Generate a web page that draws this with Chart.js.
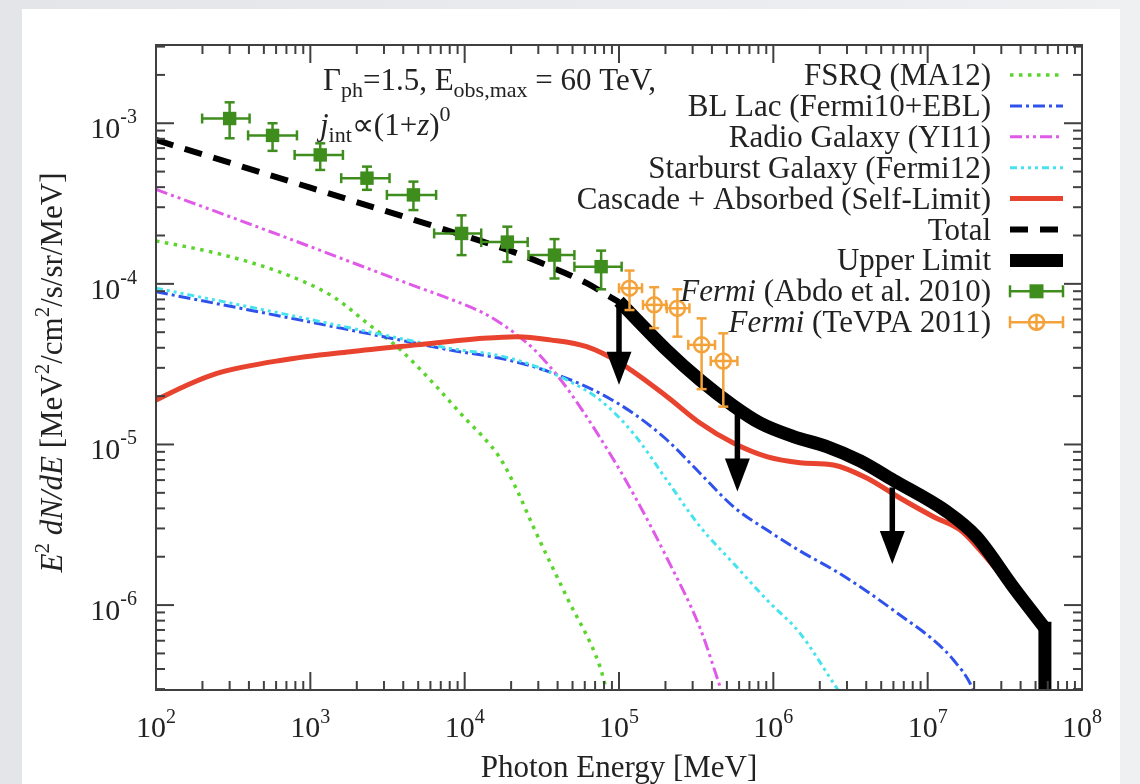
<!DOCTYPE html>
<html>
<head>
<meta charset="utf-8">
<title>Cascade self-limit and the gamma-ray background</title>
<style type="text/css">
  body { margin: 0; width: 1140px; height: 784px; overflow: hidden; background: linear-gradient(90deg, #e3e5e8, #eef0f2); }
  #card { position: absolute; left: 22px; top: 9px; width: 1098px; height: 775px; background: #ffffff; }
  #chart-container { position: absolute; left: 0; top: 0; width: 1140px; height: 784px; }
</style>
<script src="https://cdn.jsdelivr.net/npm/chart.js@4.4.1/dist/chart.umd.min.js"></script>
</head>
<body>
<div id="card"></div>
<div id="chart-container"><canvas id="graphCanvas" width="1140" height="784"></canvas></div>
<script>
var serif = '"Liberation Serif", "Times New Roman", serif';

// photon energy [MeV] and E^2 dN/dE [MeV^2/cm^2/s/sr/MeV]
var fsrqE = [1e2, 2.48e2, 6.7e2, 1.41e3, 2.33e3, 3.82e3, 6.28e3, 1.03e4, 1.32e4, 1.70e4, 2.18e4, 2.79e4, 4.59e4, 7.55e4, 8.34e4, 9.44e4];
var fsrqF = [1.85e-4, 1.55e-4, 1.16e-4, 8.3e-5, 5.7e-5, 3.9e-5, 2.4e-5, 1.42e-5, 1.11e-5, 8.2e-6, 5.21e-6, 3.06e-6, 1.12e-6, 4.1e-7, 2.9e-7, 2.0e-7];

var blE = [1e2, 6.7e2, 2.98e3, 8.05e3, 1.70e4, 2.79e4, 4.59e4, 7.55e4, 1.24e5, 2.04e5, 3.35e5, 5.51e5, 9.06e5, 1.49e6, 2.45e6, 4.03e6, 6.61e6, 1.09e7, 1.47e7, 1.93e7, 2.18e7];
var blF = [8.93e-5, 6.24e-5, 4.69e-5, 3.87e-5, 3.44e-5, 3.05e-5, 2.58e-5, 2.08e-5, 1.56e-5, 1.07e-5, 6.62e-6, 4.1e-6, 2.94e-6, 2.17e-6, 1.66e-6, 1.22e-6, 8.67e-7, 6.06e-7, 4.55e-7, 3.1e-7, 2.22e-7];

var rgE = [1e2, 6.7e2, 4.9e3, 8.05e3, 1.32e4, 1.70e4, 2.18e4, 2.79e4, 3.58e4, 4.59e4, 7.55e4, 1.24e5, 2.04e5, 3.35e5, 4.52e5, 5.22e5];
var rgF = [3.87e-4, 1.97e-4, 9.58e-5, 8.05e-5, 6.59e-5, 5.71e-5, 4.81e-5, 3.94e-5, 3.04e-5, 2.25e-5, 1.1e-5, 4.92e-6, 1.97e-6, 7.2e-7, 3.1e-7, 2.07e-7];

var sbE = [1e2, 6.7e2, 2.98e3, 8.05e3, 1.70e4, 2.79e4, 4.59e4, 7.55e4, 1.24e5, 2.04e5, 3.35e5, 5.51e5, 9.06e5, 1.49e6, 2.45e6, 3.18e6];
var sbF = [9.4e-5, 6.5e-5, 4.81e-5, 3.96e-5, 3.56e-5, 3.1e-5, 2.52e-5, 1.89e-5, 1.17e-5, 6.0e-6, 3.08e-6, 1.82e-6, 1.08e-6, 6.67e-7, 3.27e-7, 2.22e-7];

var casE = [1e2, 1.51e2, 2.48e2, 6.7e2, 1.81e3, 4.9e3, 1.32e4, 2.18e4, 3.58e4, 6.18e4, 1.02e5, 2.04e5, 3.35e5, 5.51e5, 9.06e5, 1.49e6, 2.45e6, 4.03e6, 6.61e6, 1.09e7, 1.62e7, 2.18e7, 3.57e7, 5.75e7];
var casF = [1.89e-5, 2.29e-5, 2.77e-5, 3.36e-5, 3.78e-5, 4.17e-5, 4.58e-5, 4.69e-5, 4.48e-5, 4.06e-5, 3.21e-5, 1.99e-5, 1.36e-5, 1.02e-5, 8.39e-6, 7.7e-6, 7.45e-6, 6.18e-6, 4.64e-6, 3.55e-6, 2.94e-6, 2.2e-6, 1.24e-6, 7.0e-7];

var totE = [1e2, 1e3, 1e4, 2e4, 3.58e4, 6.18e4, 8.75e4, 1e5];
var totF = [7.87e-4, 3.97e-4, 1.99e-4, 1.6e-4, 1.28e-4, 1.01e-4, 8.3e-5, 7.7e-5];

var ulE = [1e5, 2.04e5, 3.35e5, 5.51e5, 8.2e5, 1.35e6, 2.22e6, 3.65e6, 5.98e6, 1.33e7, 2.07e7, 3.58e7, 5.75e7];
var ulF = [7.8e-5, 3.87e-5, 2.52e-5, 1.74e-5, 1.36e-5, 1.12e-5, 9.7e-6, 7.9e-6, 6.0e-6, 3.82e-6, 2.67e-6, 1.30e-6, 7.18e-7];
// vertical drop of the upper limit at the highest energy
var ulDropE = [5.75e7, 5.75e7];
var ulDropF = [7.18e-7, 1e-7];

// upper limit arrows
var arrowE = [1e5, 5.85e5, 5.9e6];
var arrowFrom = [7.8e-5, 1.6e-5, 5.4e-6];
var arrowTo = [2.35e-5, 5.1e-6, 1.8e-6];

// Fermi (Abdo et al. 2010)
var abdoE = [300, 569, 1159, 2328, 4656, 9550, 18900, 38200, 76600];
var abdoELo = [199, 395, 791, 1585, 3133, 6340, 12800, 25900, 51400];
var abdoEHi = [404, 819, 1626, 3260, 6531, 12800, 25600, 51400, 104000];
var abdoF = [1.07e-3, 8.4e-4, 6.35e-4, 4.55e-4, 3.58e-4, 2.06e-4, 1.82e-4, 1.51e-4, 1.28e-4];
var abdoFLo = [8.06e-4, 6.73e-4, 5.12e-4, 3.85e-4, 2.88e-4, 1.51e-4, 1.37e-4, 1.08e-4, 9.25e-5];
var abdoFHi = [1.35e-3, 1.0e-3, 7.5e-4, 5.37e-4, 4.33e-4, 2.67e-4, 2.27e-4, 1.90e-4, 1.61e-4];

// Fermi (TeVPA 2011)
var tevE = [1.17e5, 1.69e5, 2.39e5, 3.43e5, 4.74e5];
var tevELo = [1.0e5, 1.43e5, 2.04e5, 2.81e5, 3.93e5];
var tevEHi = [1.41e5, 2.02e5, 2.86e5, 4.19e5, 5.85e5];
var tevF = [9.4e-5, 7.4e-5, 7.05e-5, 4.17e-5, 3.31e-5];
var tevFLo = [6.87e-5, 5.3e-5, 4.69e-5, 2.21e-5, 1.72e-5];
var tevFHi = [1.21e-4, 9.53e-5, 9.25e-5, 6.1e-5, 4.92e-5];

var xTickExp = [2, 3, 4, 5, 6, 7, 8];
var yTickExp = [-6, -5, -4, -3];

var legendOrder = ['FSRQ (MA12)', 'BL Lac (Fermi10+EBL)', 'Radio Galaxy (YI11)', 'Starburst Galaxy (Fermi12)',
  'Cascade + Absorbed (Self-Limit)', 'Total', 'Upper Limit', 'Fermi (Abdo et al. 2010)', 'Fermi (TeVPA 2011)'];

var abdoColor = '#3e8d1d';
var tevColor = '#f4a23a';

function pts(xs, ys) {
    return xs.map(function (x, i) { return { x: x, y: ys[i] }; });
}

function curve(label, xs, ys, color, width, dash, order) {
    return {
        label: label, data: pts(xs, ys), showLine: true, fill: false,
        borderColor: color, backgroundColor: color, borderWidth: width, borderDash: dash,
        borderJoinStyle: 'round', pointRadius: 0, cubicInterpolationMode: 'monotone',
        clip: 0, order: order
    };
}

function partFont(p) {
    return (p.i ? 'italic ' : '') + (p.s || 31) + 'px ' + serif;
}

// draws text made of pieces (italic, sub/superscripts)
function drawParts(ctx, x, y, parts, align) {
    var w = 0;
    parts.forEach(function (p) { ctx.font = partFont(p); w += ctx.measureText(p.t).width; });
    var cx = align === 'right' ? x - w : (align === 'center' ? x - w / 2 : x);
    parts.forEach(function (p) {
        ctx.font = partFont(p);
        ctx.fillText(p.t, cx, y + (p.dy || 0));
        cx += ctx.measureText(p.t).width;
    });
}

function seg(ctx, x1, y1, x2, y2) {
    ctx.beginPath();
    ctx.moveTo(x1, y1);
    ctx.lineTo(x2, y2);
    ctx.stroke();
}

function errorBars(ctx, xs, ys, e, eLo, eHi, f, fLo, fHi, color) {
    ctx.strokeStyle = color;
    ctx.lineWidth = 2.5;
    ctx.setLineDash([]);
    for (var i = 0; i < e.length; i++) {
        var px = xs.getPixelForValue(e[i]), py = ys.getPixelForValue(f[i]);
        var x1 = xs.getPixelForValue(eLo[i]), x2 = xs.getPixelForValue(eHi[i]);
        var y1 = ys.getPixelForValue(fHi[i]), y2 = ys.getPixelForValue(fLo[i]);
        seg(ctx, x1, py, x2, py);
        seg(ctx, x1, py - 5, x1, py + 5);
        seg(ctx, x2, py - 5, x2, py + 5);
        seg(ctx, px, y1, px, y2);
        seg(ctx, px - 5, y1, px + 5, y1);
        seg(ctx, px - 5, y2, px + 5, y2);
    }
}

var decorations = {
    id: 'decorations',
    afterDatasetsDraw: function (chart) {
        var ctx = chart.ctx, a = chart.chartArea, xs = chart.scales.x, ys = chart.scales.y;
        ctx.save();

        // arrows of the upper limit
        ctx.strokeStyle = '#000';
        ctx.fillStyle = '#000';
        ctx.lineWidth = 5.5;
        for (var i = 0; i < arrowE.length; i++) {
            var ax = xs.getPixelForValue(arrowE[i]);
            var ay1 = ys.getPixelForValue(arrowFrom[i]), ay2 = ys.getPixelForValue(arrowTo[i]);
            seg(ctx, ax, ay1, ax, ay2 - 30);
            ctx.beginPath();
            ctx.moveTo(ax - 12.5, ay2 - 33);
            ctx.lineTo(ax + 12.5, ay2 - 33);
            ctx.lineTo(ax, ay2);
            ctx.closePath();
            ctx.fill();
        }

        errorBars(ctx, xs, ys, abdoE, abdoELo, abdoEHi, abdoF, abdoFLo, abdoFHi, abdoColor);
        errorBars(ctx, xs, ys, tevE, tevELo, tevEHi, tevF, tevFLo, tevFHi, tevColor);

        // frame and gnuplot-like ticks on all sides
        ctx.strokeStyle = '#404040';
        ctx.lineWidth = 2;
        ctx.strokeRect(a.left, a.top, a.right - a.left, a.bottom - a.top);
        for (var n = 2; n <= 8; n++) {
            for (var k = 1; k <= 9; k++) {
                var v = k * Math.pow(10, n);
                if (v > 1.0001e8) break;
                var px = xs.getPixelForValue(v), len = k === 1 ? 18 : 9;
                seg(ctx, px, a.bottom, px, a.bottom - len);
                seg(ctx, px, a.top, px, a.top + len);
            }
        }
        for (n = -7; n <= -3; n++) {
            for (k = 1; k <= 9; k++) {
                v = k * Math.pow(10, n);
                if (v < ys.min || v > ys.max) continue;
                var py = ys.getPixelForValue(v);
                len = k === 1 ? 18 : 9;
                seg(ctx, a.left, py, a.left + len, py);
                seg(ctx, a.right, py, a.right - len, py);
            }
        }

        // tick labels
        ctx.fillStyle = '#222';
        xTickExp.forEach(function (e) {
            drawParts(ctx, xs.getPixelForValue(Math.pow(10, e)), a.bottom + 47,
                [{ t: '10', s: 30 }, { t: String(e), s: 20, dy: -14 }], 'center');
        });
        yTickExp.forEach(function (e) {
            drawParts(ctx, a.left - 19, ys.getPixelForValue(Math.pow(10, e)) + 15,
                [{ t: '10', s: 30 }, { t: String(e), s: 20, dy: -15 }], 'right');
        });

        // axis titles
        drawParts(ctx, (a.left + a.right) / 2, a.bottom + 87, [{ t: 'Photon Energy [MeV]' }], 'center');
        ctx.save();
        ctx.translate(a.left - 94, (a.top + a.bottom) / 2 + 5);
        ctx.rotate(-Math.PI / 2);
        drawParts(ctx, 0, 0, [
            { t: 'E', i: true }, { t: '2', s: 21, dy: -13 }, { t: ' ' }, { t: 'dN/dE', i: true },
            { t: ' [MeV' }, { t: '2', s: 21, dy: -13 }, { t: '/cm' }, { t: '2', s: 21, dy: -13 }, { t: '/s/sr/MeV]' }
        ], 'center');
        ctx.restore();

        // model annotation
        drawParts(ctx, a.left + 167, a.top + 45, [
            { t: '\u0393' }, { t: 'ph', s: 22, dy: 7 }, { t: '=1.5, E' }, { t: 'obs,max', s: 22, dy: 7 }, { t: ' = 60 TeV,' }
        ], 'left');
        drawParts(ctx, a.left + 164, a.top + 90, [
            { t: 'j', i: true }, { t: 'int', s: 22, dy: 7 }, { t: '\u221d(1+' }, { t: 'z', i: true }, { t: ')' }, { t: '0', s: 22, dy: -14 }
        ], 'left');

        // key
        var textRight = a.right - 91, s1 = a.right - 72, s2 = a.right - 19, sm = (s1 + s2) / 2;
        legendOrder.forEach(function (label, row) {
            var ds = chart.data.datasets.find(function (d) { return d.label === label; });
            var base = a.top + 40 + row * 30.9, ly = base - 10;
            ctx.fillStyle = '#222';
            if (label.indexOf('Fermi ') === 0) {
                drawParts(ctx, textRight, base, [{ t: 'Fermi', i: true }, { t: label.slice(5) }], 'right');
            } else {
                drawParts(ctx, textRight, base, [{ t: label }], 'right');
            }
            if (ds.showLine) {
                ctx.strokeStyle = ds.borderColor;
                ctx.lineWidth = ds.borderWidth;
                ctx.setLineDash(ds.borderDash || []);
                seg(ctx, s1, ly, s2, ly);
                ctx.setLineDash([]);
            } else {
                ctx.strokeStyle = ds.borderColor;
                ctx.lineWidth = 2.5;
                seg(ctx, s1, ly, s2, ly);
                seg(ctx, s1, ly - 6, s1, ly + 6);
                seg(ctx, s2, ly - 6, s2, ly + 6);
                if (ds.pointStyle === 'rect') {
                    ctx.fillStyle = ds.backgroundColor;
                    ctx.fillRect(sm - 7, ly - 7, 14, 14);
                } else {
                    ctx.beginPath();
                    ctx.arc(sm, ly, ds.pointRadius, 0, Math.PI * 2);
                    ctx.stroke();
                    seg(ctx, sm, ly - 7, sm, ly + 7);
                }
            }
        });
        ctx.restore();
    }
};

var ulDrop = curve('Upper Limit drop', ulDropE, ulDropF, '#000000', 13, [], 2);
ulDrop.borderCapStyle = 'square';

var chartdata = {
    datasets: [
        {
            label: 'Fermi (TeVPA 2011)', data: pts(tevE, tevF), showLine: false, pointStyle: 'circle',
            pointRadius: 7.5, pointBorderWidth: 2.5, borderColor: tevColor, backgroundColor: 'rgba(255,255,255,0)', order: 0
        },
        {
            label: 'Fermi (Abdo et al. 2010)', data: pts(abdoE, abdoF), showLine: false, pointStyle: 'rect',
            pointRadius: 9.5, pointBorderWidth: 0, borderColor: abdoColor, backgroundColor: abdoColor, order: 1
        },
        curve('Upper Limit', ulE, ulF, '#000000', 13, [], 2),
        ulDrop,
        curve('Total', totE, totF, '#000000', 6, [18, 12], 3),
        curve('Cascade + Absorbed (Self-Limit)', casE, casF, '#e8432f', 5, [], 4),
        curve('Starburst Galaxy (Fermi12)', sbE, sbF, '#45e3ee', 3, [7, 4, 3, 4, 3, 4, 3, 4], 5),
        curve('Radio Galaxy (YI11)', rgE, rgF, '#e05ae8', 3, [12, 4, 3, 4, 3, 4], 6),
        curve('BL Lac (Fermi10+EBL)', blE, blF, '#3052ec', 3, [12, 4, 3, 4], 7),
        curve('FSRQ (MA12)', fsrqE, fsrqF, '#5ad52c', 3.5, [3.5, 5.5], 8)
    ]
};

var graphTarget = document.getElementById('graphCanvas');
var graph = new Chart(graphTarget, {
    type: 'scatter',
    data: chartdata,
    plugins: [decorations],
    options: {
        responsive: false,
        animation: false,
        events: [],
        layout: { padding: { left: 156, right: 58, top: 45, bottom: 94 } },
        plugins: { legend: { display: false }, tooltip: { enabled: false } },
        scales: {
            x: { type: 'logarithmic', min: 1e2, max: 1e8, display: false },
            y: { type: 'logarithmic', min: 2.96e-7, max: 3.07e-3, display: false }
        }
    }
});
</script>
</body>
</html>
